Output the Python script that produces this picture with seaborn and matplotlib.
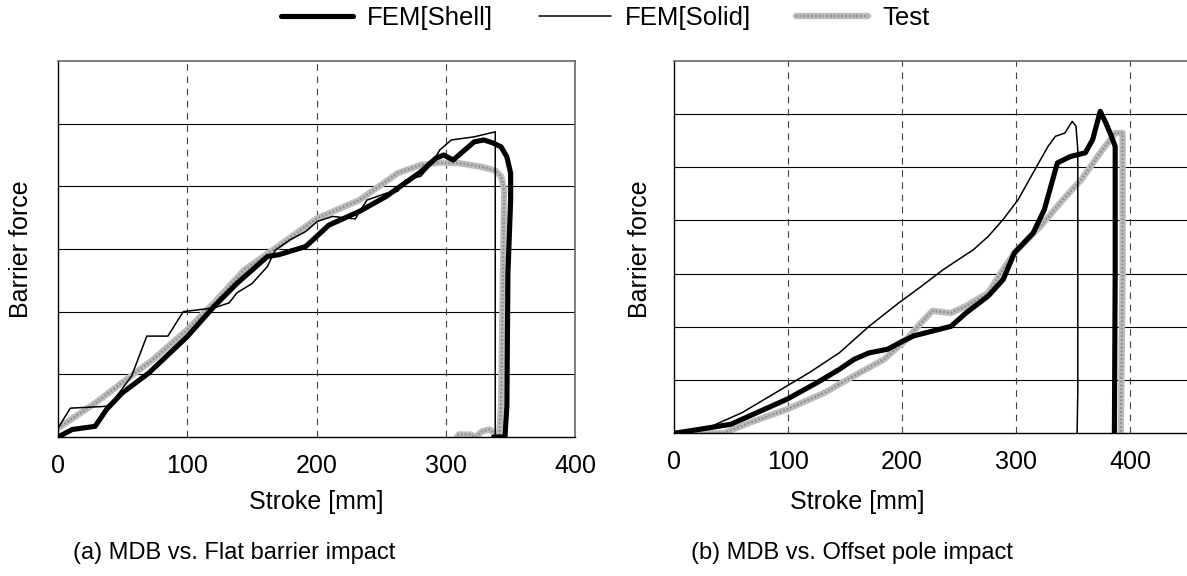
import matplotlib
matplotlib.use("Agg")
import matplotlib.pyplot as plt
import seaborn as sns
from matplotlib.lines import Line2D

# (a) MDB vs. Flat barrier impact  -- stroke [mm], barrier force [grid units]
a_shell_x = [0, 11, 28.7, 37.6, 49.5, 70.2, 99.9, 120.6, 138.4, 162, 171, 191.7, 209.5, 233.2,
             254, 262.8, 280.6, 292.4, 298.4, 305.8, 314.7, 322, 329.5, 336.9, 342.8, 347.3,
             350.2, 350.2, 348.1, 347.3, 345.8, 337]
a_shell_y = [0, 0.12, 0.17, 0.44, 0.70, 1.02, 1.60, 2.08, 2.45, 2.88, 2.91, 3.04, 3.38, 3.60,
             3.84, 3.97, 4.23, 4.45, 4.50, 4.42, 4.58, 4.71, 4.74, 4.69, 4.63, 4.47,
             4.21, 3.78, 2.61, 0.49, 0, 0]

a_solid_x = [0, 9.5, 37.6, 43.5, 56.9, 68.7, 85, 96.9, 120.6, 132.4, 138.4, 150.2, 162, 168,
             179.8, 191.7, 200.6, 212.4, 230, 239, 254, 262.8, 268.7, 280.6, 289.5, 295.4,
             304.3, 322, 338.3, 338.3, 338.3]
a_solid_y = [0.14, 0.46, 0.49, 0.60, 0.97, 1.61, 1.61, 2.0, 2.06, 2.14, 2.30, 2.45, 2.72, 2.98,
             3.15, 3.28, 3.44, 3.52, 3.48, 3.78, 3.89, 3.92, 4.10, 4.16, 4.37, 4.58,
             4.74, 4.79, 4.87, 4.58, 0]

a_test_x = [0, 28.7, 52.4, 73.2, 99.9, 120.6, 144.3, 168, 200.6, 233.2, 262.8, 280.6, 295.4,
            310.2, 328, 338.4, 342.8, 345.2, 344.3, 342.8, 341.3, 334, 328, 323, 319, 310, 308.7]
a_test_y = [0.14, 0.54, 0.91, 1.23, 1.71, 2.14, 2.67, 3.01, 3.49, 3.78, 4.21, 4.34, 4.38,
            4.37, 4.31, 4.25, 4.16, 3.94, 2.61, 0.49, 0, 0.12, 0.09, 0, 0.04, 0.04, 0]

# (b) MDB vs. Offset pole impact
b_shell_x = [0, 23.9, 50, 72.9, 99.1, 125.3, 144.9, 158, 171, 187.4, 200.5, 210.3, 226.7, 243,
             256.1, 275.7, 288.8, 298.6, 315, 324.8, 336.3, 347.7, 360.8, 367.3, 373.9, 378.8,
             383.7, 387, 387, 386.3]
b_shell_y = [0, 0.08, 0.17, 0.39, 0.64, 0.95, 1.20, 1.39, 1.51, 1.58, 1.73, 1.83, 1.92, 2.01,
             2.26, 2.58, 2.89, 3.39, 3.76, 4.20, 5.08, 5.20, 5.27, 5.52, 6.05, 5.83,
             5.58, 5.39, 3.01, 0]

b_solid_x = [0, 33.7, 59.9, 79.5, 99.1, 118.7, 144.9, 171.1, 197.2, 216.9, 236.5, 262.7, 275.7,
             288.8, 301.9, 318.3, 328.1, 334.6, 342.8, 349.3, 352.6, 354.2, 354.2, 353.6]
b_solid_y = [0.01, 0.14, 0.39, 0.64, 0.89, 1.14, 1.51, 2.01, 2.45, 2.76, 3.08, 3.45, 3.70,
             4.02, 4.39, 5.02, 5.39, 5.58, 5.64, 5.86, 5.77, 5.33, 0.76, 0]

b_test_x = [0, 43.5, 66.4, 99.1, 131.8, 158, 184.2, 203.8, 216.9, 226.7, 243, 256.1, 275.7,
            288.8, 298.6, 321.5, 341.2, 357.5, 373.9, 387, 393.5, 393.5, 391.9]
b_test_y = [0, 0, 0.20, 0.45, 0.76, 1.08, 1.39, 1.76, 2.08, 2.30, 2.26, 2.39, 2.64,
            3.08, 3.39, 3.89, 4.39, 4.77, 5.27, 5.64, 5.64, 3.01, 0]

x_ticks = [0, 100, 200, 300, 400]

sns.set_style("white")
plt.rcParams['font.family'] = ['Liberation Sans', 'DejaVu Sans']
plt.rcParams['text.color'] = 'black'
plt.rcParams['axes.labelcolor'] = 'black'
plt.rcParams['xtick.color'] = 'black'
FS = 18

fig = plt.figure(figsize=(11.87, 5.76), dpi=100)
ax_a = fig.add_axes([58 / 1187, 139 / 576, 517 / 1187, 376 / 576])
ax_b = fig.add_axes([674 / 1187, 142.7 / 576, 524.4 / 1187, 372.6 / 576])

SHELL = dict(color='black', linewidth=3.7, solid_joinstyle='round')
SOLID = dict(color='black', linewidth=1.1)
TEST_BASE = dict(color='#bcbcbc', linewidth=4.6)
TEST_DOTS = dict(color='#8e8e8e', linewidth=1.6, linestyle=(0, (0.8, 0.9)))


def draw_panel(ax, shell, solid, test, xmax, ymax):
    for style in (TEST_BASE, TEST_DOTS):
        sns.lineplot(x=test[0], y=test[1], sort=False, estimator=None, ax=ax, **style)
    sns.lineplot(x=shell[0], y=shell[1], sort=False, estimator=None, ax=ax, **SHELL)
    sns.lineplot(x=solid[0], y=solid[1], sort=False, estimator=None, ax=ax, **SOLID)

    ax.set_xlim(0, xmax)
    ax.set_ylim(0, ymax)
    ax.set_xticks(x_ticks)
    ax.set_yticks(range(1, ymax))
    ax.set_yticklabels([])
    ax.tick_params(axis='x', length=0, labelsize=FS, pad=12, labelcolor='black')
    ax.tick_params(axis='y', length=0)
    for yv in range(1, ymax):
        ax.axhline(yv, color='black', linewidth=0.8, zorder=0)
    for xv in [100, 200, 300, 400]:
        if xv < xmax:
            ax.axvline(xv, color='#444444', linewidth=0.8, linestyle=(0, (6, 5)), zorder=0)
    for side in ['left', 'bottom']:
        ax.spines[side].set_color('black')
        ax.spines[side].set_linewidth(1.0)
    for side in ['top', 'right']:
        ax.spines[side].set_color('#666666')
        ax.spines[side].set_linewidth(1.2)
    ax.set_xlabel('Stroke [mm]', fontsize=FS, color='black')
    ax.set_ylabel('Barrier force', fontsize=FS, color='black')


draw_panel(ax_a, (a_shell_x, a_shell_y), (a_solid_x, a_solid_y), (a_test_x, a_test_y), 400, 6)
ax_a.yaxis.set_label_coords(-0.048, 0.5)
ax_a.xaxis.set_label_coords(0.5, -0.141)
draw_panel(ax_b, (b_shell_x, b_shell_y), (b_solid_x, b_solid_y), (b_test_x, b_test_y), 460, 7)
ax_b.yaxis.set_label_coords(-0.042, 0.495)
ax_b.xaxis.set_label_coords(0.35, -0.152)

fig.text(234 / 1187, 1 - 553 / 576, '(a) MDB vs. Flat barrier impact', ha='center', va='center',
         fontsize=17, color='black')
fig.text(852 / 1187, 1 - 553 / 576, '(b) MDB vs. Offset pole impact', ha='center', va='center',
         fontsize=17, color='black')

handles = [Line2D([], [], **SHELL), Line2D([], [], **SOLID),
           (Line2D([], [], **TEST_BASE), Line2D([], [], **TEST_DOTS))]
leg = fig.legend(handles, ['FEM[Shell]', 'FEM[Solid]', 'Test'], loc='center',
                 bbox_to_anchor=(0.5 + 12 / 1187, 1 - 18 / 576), ncol=3, frameon=False, fontsize=18.5,
                 handlelength=2.8, handletextpad=0.56, columnspacing=1.76)
for t in leg.get_texts():
    t.set_color('black')

fig.savefig('out.png', dpi=100)
